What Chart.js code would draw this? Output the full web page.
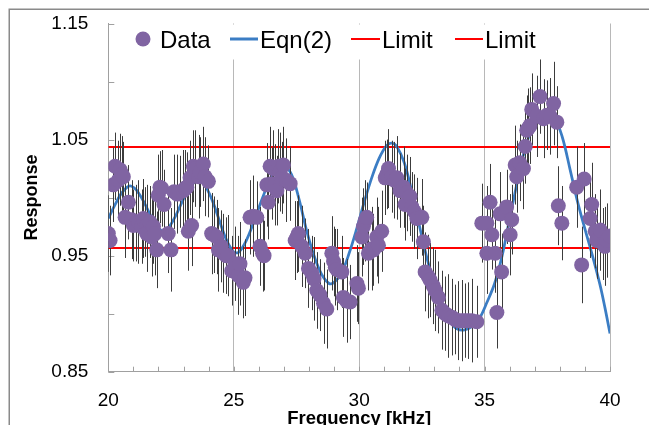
<!DOCTYPE html>
<html><head><meta charset="utf-8">
<script src="https://cdn.jsdelivr.net/npm/chart.js@4.4.1/dist/chart.umd.min.js"></script>
<style>html,body{margin:0;padding:0;background:#fff;overflow:hidden}#wrap{width:649px;height:425px;position:relative}</style>
</head><body><div id="wrap"><canvas id="c" width="649" height="425"></canvas></div>
<script>
// ---- data ----
const freq = [
20.00,20.07,20.20,20.27,20.40,20.47,20.55,20.60,20.67,20.80,
20.93,21.00,21.10,21.20,21.33,21.40,21.46,21.53,21.53,21.66,
21.73,21.80,21.86,21.93,21.99,22.06,22.13,22.22,22.39,22.50,
22.62,22.75,22.86,22.99,23.06,23.13,23.19,23.26,23.32,23.39,
23.46,23.60,23.66,23.79,23.86,23.99,24.12,24.20,24.32,24.39,
24.50,24.59,24.70,24.78,24.92,25.05,25.18,25.25,25.38,25.45,
25.65,25.78,25.92,26.05,26.15,26.21,26.32,26.38,26.45,26.52,
26.58,26.65,26.72,26.78,26.85,26.92,26.98,27.10,27.25,27.45,
27.52,27.58,27.71,27.85,27.98,28.11,28.20,28.31,28.44,28.58,
28.71,28.91,28.98,29.05,29.11,29.31,29.37,29.50,29.64,29.91,
29.97,30.11,30.17,30.24,30.30,30.37,30.50,30.57,30.70,30.77,
30.90,31.04,31.10,31.17,31.30,31.40,31.50,31.63,31.77,31.83,
31.90,32.03,32.10,32.20,32.30,32.50,32.56,32.63,32.75,32.83,
32.95,33.03,33.16,33.30,33.43,33.56,33.69,33.82,33.96,34.09,
34.22,34.35,34.49,34.69,34.89,35.09,35.09,35.22,35.29,35.42,
35.49,35.62,35.68,35.88,36.02,36.08,36.22,36.28,36.40,36.55,
36.62,36.68,36.75,36.81,36.88,37.08,37.21,37.35,37.48,37.62,
37.75,37.88,37.94,38.08,38.67,38.87,38.97,39.21,39.27,39.41,
39.47,39.61,39.74,39.80,39.87,40.00];
const resp = [
0.969,0.963,1.011,1.027,1.015,1.024,1.020,1.018,0.983,0.996,
0.981,0.976,0.978,0.979,0.975,0.982,0.979,0.976,0.969,0.979,
0.966,0.975,0.969,0.955,1.002,1.009,1.008,0.994,0.969,0.955,
1.005,1.003,1.005,1.006,1.008,1.009,0.971,1.017,0.976,1.027,
1.025,1.018,1.022,1.029,1.018,1.014,0.969,0.968,0.966,0.955,
0.958,0.952,0.950,0.950,0.937,0.943,0.933,0.943,0.927,0.931,
0.983,0.984,0.983,0.958,0.952,0.950,1.011,0.996,1.027,1.012,
1.025,1.011,1.006,1.027,1.022,1.017,1.028,1.015,1.012,0.963,
0.966,0.969,0.958,0.952,0.939,0.935,0.930,0.920,0.916,0.909,
0.904,0.952,0.945,0.940,0.938,0.936,0.914,0.911,0.910,0.926,
0.922,0.966,0.975,0.980,0.983,0.952,0.956,0.955,0.966,0.959,
0.971,1.017,1.020,1.025,1.018,1.015,1.017,1.006,1.009,0.994,
1.004,1.001,0.992,0.988,0.982,0.983,0.962,0.936,0.932,0.929,
0.924,0.920,0.914,0.903,0.900,0.898,0.897,0.895,0.894,0.894,
0.894,0.894,0.894,0.893,0.978,0.978,0.952,0.996,0.968,0.952,
0.901,0.986,0.936,0.992,0.968,0.981,1.028,1.018,1.030,1.025,
1.044,1.058,1.060,1.062,1.076,1.070,1.087,1.068,1.071,1.070,
1.081,1.065,0.993,0.978,1.009,0.942,1.016,0.982,0.994,0.971,
0.963,0.972,0.960,0.958,0.963,0.967];
const respErr = [
0.033,0.030,0.032,0.029,0.034,0.031,0.033,0.030,0.035,0.032,
0.034,0.031,0.033,0.036,0.032,0.034,0.030,0.035,0.033,0.031,
0.034,0.032,0.036,0.033,0.035,0.031,0.033,0.030,0.034,0.036,
0.032,0.034,0.031,0.035,0.033,0.030,0.034,0.032,0.035,0.031,
0.033,0.036,0.030,0.032,0.034,0.031,0.035,0.033,0.032,0.036,
0.031,0.034,0.033,0.035,0.030,0.032,0.034,0.036,0.031,0.033,
0.032,0.035,0.031,0.034,0.033,0.030,0.036,0.032,0.034,0.031,
0.033,0.035,0.030,0.032,0.034,0.031,0.033,0.036,0.032,0.034,
0.031,0.033,0.035,0.030,0.034,0.032,0.036,0.033,0.031,0.035,
0.034,0.032,0.030,0.033,0.035,0.031,0.034,0.036,0.032,0.033,
0.031,0.034,0.033,0.035,0.030,0.032,0.036,0.031,0.034,0.033,
0.035,0.032,0.030,0.034,0.031,0.033,0.036,0.032,0.035,0.031,
0.033,0.034,0.030,0.032,0.035,0.033,0.031,0.034,0.036,0.032,
0.033,0.035,0.031,0.034,0.032,0.036,0.033,0.030,0.034,0.035,
0.032,0.033,0.036,0.031,0.034,0.032,0.035,0.033,0.030,0.034,
0.031,0.036,0.033,0.032,0.035,0.030,0.034,0.031,0.033,0.035,
0.032,0.030,0.034,0.033,0.031,0.035,0.032,0.034,0.030,0.033,
0.036,0.031,0.034,0.032,0.035,0.033,0.031,0.034,0.036,0.032,
0.033,0.035,0.031,0.034,0.032,0.033];
const curveFreq = [
20.0,20.25,20.5,20.75,20.9,21.1,21.4,21.7,22.0,22.2,
22.4,22.7,23.0,23.3,23.55,23.8,24.1,24.4,24.7,25.0,
25.2,25.5,25.8,26.1,26.4,26.7,27.0,27.3,27.6,27.9,
28.2,28.5,28.8,29.0,29.3,29.6,29.9,30.2,30.5,30.8,
31.1,31.3,31.5,31.8,32.1,32.4,32.7,33.0,33.3,33.6,
33.9,34.2,34.5,34.8,35.1,35.4,35.7,36.0,36.3,36.6,
36.9,37.2,37.5,37.8,38.1,38.4,38.7,39.0,39.3,39.6,
39.8,40.0];
const curveResp = [
0.982,0.993,1.003,1.009,1.010,1.007,0.997,0.984,0.974,0.971,
0.974,0.985,0.999,1.010,1.015,1.012,1.000,0.982,0.964,0.953,
0.953,0.963,0.979,0.997,1.013,1.024,1.027,1.020,0.999,0.972,
0.950,0.934,0.926,0.927,0.935,0.952,0.973,0.996,1.017,1.034,
1.045,1.047,1.044,1.030,1.005,0.976,0.948,0.925,0.906,0.894,
0.887,0.886,0.889,0.896,0.910,0.926,0.950,0.982,1.013,1.041,
1.060,1.068,1.071,1.068,1.052,1.025,0.997,0.973,0.950,0.925,
0.905,0.883];
const limitFreq = [20, 40];
const upperLimit = [1.0435, 1.0435];
const lowerLimit = [0.9565, 0.9565];
const legendLabels = ['Data', 'Eqn(2)', 'Limit', 'Limit'];
const xTickLabels = [20, 25, 30, 35, 40];
const yTickLabels = [0.85, 0.95, 1.05, 1.15];
const xTitle = 'Frequency [kHz]';
const yTitle = 'Response';

// ---- styles ----
const PURPLE = '#8064A2', BLUE = '#3b7dc4', RED = '#ff0000';
const GRID = '#b8b8b8', AXIS = '#a0a0a0';
const FONT = '"Liberation Sans", Arial, sans-serif';

const toXY = (xs, ys) => xs.map((x, i) => ({x: x, y: ys[i]}));

const decor = {
  id: 'decor',
  beforeDatasetsDraw(chart) {
    const {ctx, chartArea: a, scales: {x: xs, y: ys}} = chart;
    ctx.save();
    ctx.strokeStyle = AXIS; ctx.lineWidth = 1;
    ctx.beginPath();
    xs.ticks.forEach(t => {
      const px = Math.round(xs.getPixelForValue(t.value)) + 0.5;
      ctx.moveTo(px, a.bottom); ctx.lineTo(px, a.bottom - 5);
    });
    ys.ticks.forEach(t => {
      const py = Math.round(ys.getPixelForValue(t.value)) + 0.5;
      ctx.moveTo(a.left, py); ctx.lineTo(a.left + 6, py);
    });
    ctx.stroke();
    // legend box (sits inside the plot, white background)
    ctx.fillStyle = '#fff';
    ctx.fillRect(120, a.top + 1, 432, 35);
    const cy = 39;
    ctx.fillStyle = PURPLE;
    ctx.beginPath(); ctx.arc(143, cy, 7.5, 0, Math.PI * 2); ctx.fill();
    ctx.lineCap = 'butt';
    ctx.strokeStyle = BLUE; ctx.lineWidth = 3;
    ctx.beginPath(); ctx.moveTo(230, cy); ctx.lineTo(258, cy); ctx.stroke();
    ctx.strokeStyle = RED; ctx.lineWidth = 2;
    ctx.beginPath(); ctx.moveTo(351, cy); ctx.lineTo(380, cy); ctx.stroke();
    ctx.beginPath(); ctx.moveTo(455, cy); ctx.lineTo(483, cy); ctx.stroke();
    ctx.fillStyle = '#000';
    ctx.font = '24px ' + FONT;
    ctx.textBaseline = 'alphabetic'; ctx.textAlign = 'left';
    const lx = [160, 260, 382, 485];
    legendLabels.forEach((t, i) => ctx.fillText(t, lx[i], 47.5));
    ctx.restore();
  },
  beforeDatasetDraw(chart, args) {
    if (args.index !== 0) return;
    const {ctx, chartArea: a, scales: {x: xs, y: ys}} = chart;
    ctx.save();
    ctx.beginPath(); ctx.rect(a.left, a.top, a.right - a.left, a.bottom - a.top); ctx.clip();
    ctx.strokeStyle = '#3c3c3c'; ctx.lineWidth = 1;
    ctx.beginPath();
    freq.forEach((f, i) => {
      const px = Math.round(xs.getPixelForValue(f)) + 0.5;
      ctx.moveTo(px, ys.getPixelForValue(resp[i] + respErr[i]));
      ctx.lineTo(px, ys.getPixelForValue(resp[i] - respErr[i]));
    });
    ctx.stroke();
    ctx.restore();
  },
  afterDraw(chart) {
    const {ctx} = chart;
    ctx.save();
    ctx.strokeStyle = '#8a8a8a'; ctx.lineWidth = 1.5;
    ctx.strokeRect(9.25, 9.25, 800, 600);
    ctx.restore();
  }
};

new Chart(document.getElementById('c'), {
  type: 'scatter',
  data: {
    datasets: [
      {label: legendLabels[0], data: toXY(freq, resp), showLine: false,
       pointRadius: 7.5, pointHoverRadius: 7.5, pointBackgroundColor: PURPLE,
       pointBorderColor: PURPLE, pointBorderWidth: 0},
      {label: legendLabels[1], data: toXY(curveFreq, curveResp), showLine: true,
       borderColor: BLUE, borderWidth: 2.75, pointRadius: 0, tension: 0.35, fill: false},
      {label: legendLabels[2], data: toXY(limitFreq, upperLimit), showLine: true,
       borderColor: RED, borderWidth: 2, pointRadius: 0, fill: false},
      {label: legendLabels[3], data: toXY(limitFreq, lowerLimit), showLine: true,
       borderColor: RED, borderWidth: 2, pointRadius: 0, fill: false}
    ]
  },
  options: {
    responsive: false, animation: false, devicePixelRatio: 1, events: [],
    layout: {padding: {top: 23.5, right: 39, bottom: 0, left: 0}},
    plugins: {legend: {display: false}, tooltip: {enabled: false}},
    scales: {
      x: {
        type: 'linear', min: 20, max: 40,
        afterFit: s => { s.height = 53.3; s.paddingLeft = 0; s.paddingRight = 0; },
        ticks: {stepSize: 1, autoSkip: false, maxRotation: 0, padding: 18, color: '#000',
          font: {family: FONT, size: 19},
          callback: v => xTickLabels.some(t => Math.abs(t - v) < 1e-6) ? String(v) : ''},
        grid: {drawTicks: false, lineWidth: 1,
          color: c => (c.tick && Math.abs(c.tick.value % 5) < 1e-6 && c.tick.value > 20) ? GRID : 'rgba(0,0,0,0)'},
        border: {display: true, color: AXIS, width: 1},
        title: {display: true, text: xTitle, color: '#000',
          font: {family: FONT, size: 18.5, weight: 'bold', lineHeight: 1},
          padding: {top: 0, bottom: -3}}
      },
      y: {
        type: 'linear', min: 0.85, max: 1.15,
        afterFit: s => { s.width = 108.3; s.paddingTop = 0; s.paddingBottom = 0; },
        ticks: {stepSize: 0.05, padding: 20, color: '#000', font: {family: FONT, size: 19},
          callback: v => yTickLabels.some(t => Math.abs(t - v) < 1e-6) ? v.toFixed(2) : ''},
        grid: {display: false, drawTicks: false},
        border: {display: true, color: AXIS, width: 1},
        title: {display: true, text: yTitle, color: '#000',
          font: {family: FONT, size: 18, weight: 'bold', lineHeight: 1.2},
          padding: {top: 21.7, bottom: 0}}
      }
    }
  },
  plugins: [decor]
});
</script></body></html>
